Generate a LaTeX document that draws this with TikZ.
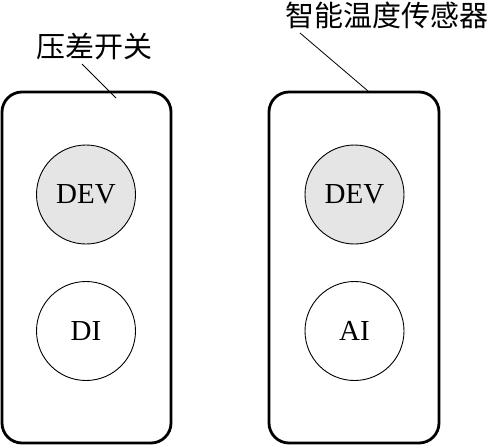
\documentclass[tikz,border=0pt]{standalone}
\usepackage{fontspec}
\setmainfont{Liberation Serif}
\newfontfamily\cjk{Noto Sans CJK SC}
\begin{document}
\begin{tikzpicture}[x=1pt,y=-1pt,
  box/.style={draw,line width=2.8pt,rounded corners=20pt},
  devc/.style={draw,line width=0.9pt,circle,minimum size=99pt,inner sep=0pt,fill=gray!20,font=\fontsize{29}{30}\selectfont},
  ioc/.style={draw,line width=0.9pt,circle,minimum size=99pt,inner sep=0pt,fill=white,font=\fontsize{29}{30}\selectfont},
  lbl/.style={inner sep=0pt,font=\cjk\fontsize{29}{30}\selectfont},
  leader/.style={line width=0.8pt}]
\useasboundingbox (0,0) rectangle (493,445);
\draw[box] (2,92) rectangle (171,443);
\draw[box] (269,92) rectangle (439,443);
\node[devc] (dev1) at (86,194.5) {DEV};
\node[ioc] (di) at (86,331) {DI};
\node[devc] (dev2) at (354.5,194.5) {DEV};
\node[ioc] (ai) at (354.5,331) {AI};
\node[lbl] (l1) at (94,47) {压差开关};
\node[lbl] (l2) at (387,15) {智能温度传感器};
\coordinate (e1) at (116,98);
\coordinate (e2) at (368,91);
\draw[leader] (82,64) -- (e1);
\draw[leader] (300,33) -- (e2);
\end{tikzpicture}
\end{document}
